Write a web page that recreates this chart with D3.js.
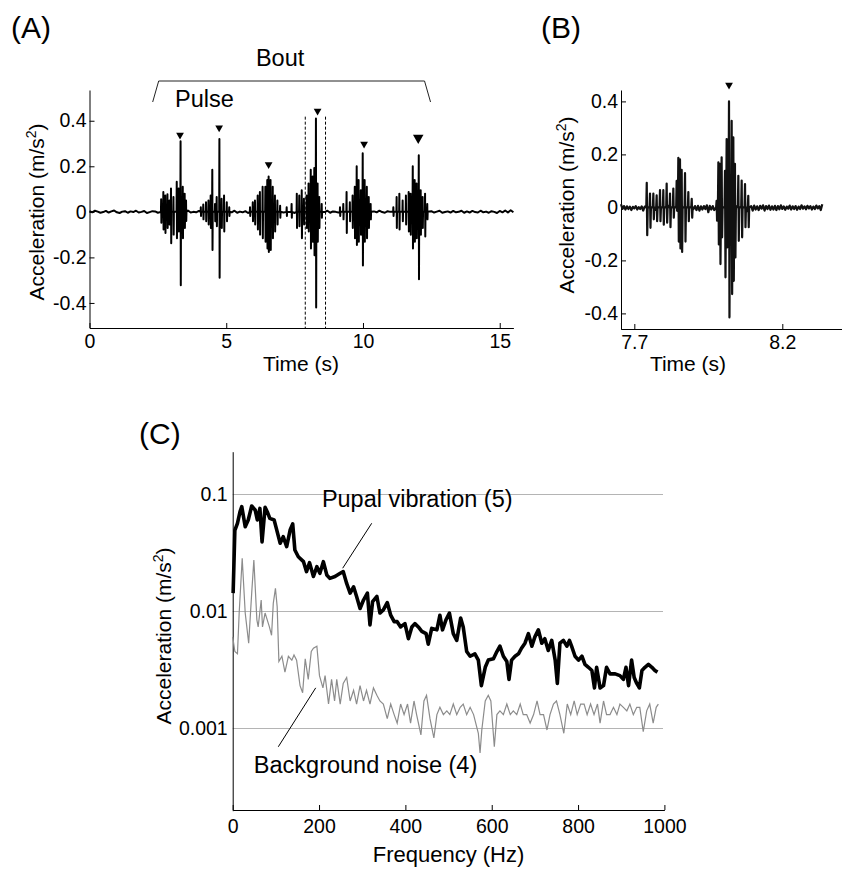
<!DOCTYPE html>
<html>
<head>
<meta charset="utf-8">
<script src="https://cdnjs.cloudflare.com/ajax/libs/d3/7.8.5/d3.min.js"></script>
<style>
  body { margin: 0; background: #fff; }
  svg text { font-family: "Liberation Sans", Arial, Helvetica, sans-serif; fill: #000; }
  .axis path, .axis line { stroke: #000; stroke-width: 1; }
  .axis text { font-size: 19.5px; font-family: "Liberation Sans", Arial, sans-serif; }
  .title { font-size: 21px; }
  .panel { font-size: 30px; }
  .note { font-size: 23.5px; }
</style>
</head>
<body>
<div id="fig"></div>
<script>
// Pupal vibration figure: (A) whole bout, (B) one pulse, (C) spectra
// Values

// ---- (A) bout ----
var boutTicks = [0, 5, 10, 15];
var boutYTicks = [-0.4, -0.2, 0, 0.2, 0.4];
// baseline noise, one sample every 0.1 s from 0 s, in m/s^2 x 1000
var boutBaseStep = 0.1;
var boutBaseline = [
  3,-2,5,1,-4,-1,4,-3,2,6,-2,-5,1,3,-4,2,-1,5,-3,0,
  4,-5,-1,3,2,-4,5,-2,-3,4,1,-5,3,-1,2,-4,6,-3,0,-2,
  4,-3,2,5,-4,-1,3,-5,2,0,-3,4,-2,5,-4,1,-2,3,-5,2,
  -1,4,-3,3,0,-5,4,-2,1,-4,5,-3,2,-1,3,-5,4,0,-3,2,
  5,-4,1,-2,4,-3,-1,5,-4,2,0,-3,4,-5,2,1,-4,3,-2,5,
  -3,1,4,-4,2,-2,5,-1,-4,3,0,-3,5,-2,1,-5,4,-1,2,-4,
  3,0,-5,4,-2,3,-3,1,5,-4,-1,2,-3,4,-2,0,5,-4,2,-3,
  4,-1,-3,5,-2,1,-4,3,0,-5,4,-2,6,-3,7,-2
];
// spikes inside the six pulses: [time s, peak, trough]
var boutSpikes = [
  [2.62,0.055,-0.048],[2.70,0.087,-0.078],[2.77,0.072,-0.093],[2.85,0.077,-0.071],[2.92,0.050,-0.056],
  [2.98,0.102,-0.138],[3.07,0.065,-0.100],[3.19,0.132,-0.116],[3.26,0.102,-0.086],[3.33,0.310,-0.322],
  [3.41,0.110,-0.116],[3.48,0.080,-0.071],[3.53,0.050,-0.040],
  [4.07,0.020,-0.018],[4.16,0.032,-0.033],[4.26,0.042,-0.041],[4.35,0.050,-0.056],[4.43,0.072,-0.071],
  [4.49,0.185,-0.168],[4.59,0.035,-0.041],[4.65,0.065,-0.063],[4.75,0.320,-0.289],[4.83,0.057,-0.071],
  [4.92,0.072,-0.086],[5.02,0.042,-0.041],[5.11,0.020,-0.018],
  [5.87,0.020,-0.018],[5.97,0.042,-0.041],[6.05,0.050,-0.056],[6.15,0.072,-0.078],[6.23,0.087,-0.100],
  [6.33,0.110,-0.116],[6.43,0.110,-0.131],[6.50,0.140,-0.161],[6.55,0.155,-0.176],[6.62,0.140,-0.168],
  [6.70,0.110,-0.116],[6.78,0.072,-0.086],[6.87,0.050,-0.056],[6.97,0.027,-0.026],
  [7.21,0.020,-0.018],[7.39,0.035,-0.026],[7.58,0.080,-0.071],[7.67,0.072,-0.063],[7.76,0.095,-0.116],
  [7.84,0.057,-0.056],[7.94,0.072,-0.071],[8.01,0.125,-0.086],[8.09,0.185,-0.161],[8.16,0.155,-0.131],
  [8.22,0.192,-0.191],[8.28,0.410,-0.420],[8.34,0.125,-0.131],[8.40,0.065,-0.071],[8.49,0.035,-0.026],
  [9.16,0.020,-0.018],[9.28,0.035,-0.033],[9.40,0.087,-0.093],[9.52,0.042,-0.041],[9.62,0.072,-0.071],
  [9.70,0.110,-0.116],[9.77,0.200,-0.146],[9.84,0.140,-0.131],[9.92,0.095,-0.101],[9.99,0.257,-0.236],
  [10.06,0.140,-0.131],[10.14,0.110,-0.116],[10.21,0.065,-0.071],[10.28,0.035,-0.033],
  [11.11,0.020,-0.018],[11.23,0.065,-0.071],[11.33,0.080,-0.078],[11.45,0.050,-0.041],[11.57,0.072,-0.056],
  [11.67,0.087,-0.086],[11.74,0.080,-0.101],[11.82,0.200,-0.161],[11.89,0.140,-0.131],[11.96,0.125,-0.116],
  [12.04,0.248,-0.296],[12.11,0.095,-0.101],[12.18,0.065,-0.071],[12.27,0.080,-0.108],[12.35,0.035,-0.033]
];
// arrowheads over each pulse [time s, acceleration]
var boutMarkers = [[3.31,0.337],[4.74,0.369],[6.55,0.208],[8.34,0.443],[10.04,0.298],[12.02,0.325]];
var boutSpan = [2.31, 12.47];     // "Bout" bracket
var zoomWindow = [7.89, 8.63];    // dashed lines, shown enlarged in (B)

// ---- (B) one pulse ----
var pulseTicks = [7.7, 8.2];
var pulseYTicks = [-0.4, -0.2, 0, 0.2, 0.4];
var pulseBaseStart = 7.655;
var pulseBaseStep = 0.005;
var pulseBaseline = [
  12,-6,5,-8,4,-6,3,-10,2,-4,5,-8,1,-6,4,-12,3,-4,6,-7,
  8,-15,5,-10,6,-8,4,-6,7,-5,3,-9,6,-4,5,-8,4,-10,5,-6,
  4,-5,6,-8,3,-5,7,-4,2,-6,5,-10,6,-12,4,-8,5,-6,8,-18,
  6,-8,5,-10,7,-12,6,-8,10,-6,4,-15,8,-10,6,-12,9,-5,4,-8,
  12,-15,6,-10,8,-14,10,-6,5,-12,7,-8,4,-10,6,-5,8,-12,5,-6,
  7,-9,4,-8,6,-10,5,-7,8,-6,4,-9,3,-5,7,-8,4,-6,5,-9,
  3,-6,8,-5,4,-7,6,-4,5,-8,3,-6,7,-4,5,-10,12
];
var pulseSpikes = [
  [7.742,0.093,-0.105],[7.753,0.052,-0.077],[7.7643,0.052,-0.045],[7.7755,0.045,-0.052],
  [7.7868,0.065,-0.052],[7.798,0.065,-0.065],[7.8093,0.090,-0.058],[7.8206,0.052,-0.075],
  [7.8318,0.071,-0.039],[7.843,0.100,-0.013],[7.8487,0.187,-0.129],[7.8543,0.181,-0.155],
  [7.860,0.142,-0.168],[7.8713,0.129,-0.129],[7.8825,0.058,-0.052],[7.894,0.032,-0.039],
  [7.978,0.025,-0.050],[7.984,0.170,-0.140],[7.9895,0.164,-0.214],[7.995,0.189,-0.113],
  [8.0064,0.138,-0.264],[8.012,0.258,-0.151],[8.0199,0.400,-0.415],[8.0289,0.327,-0.327],
  [8.0345,0.264,-0.277],[8.040,0.164,-0.189],[8.0514,0.119,-0.126],[8.0627,0.101,-0.113],
  [8.074,0.088,-0.075],[8.085,0.044,-0.075]
];
var pulseMarker = [8.02, 0.462];

// ---- (C) spectra [Hz, m/s^2] ----
var freqTicks = [0, 200, 400, 600, 800, 1000];
var accTicks = [0.001, 0.01, 0.1];
var pupalSpectrum = [
  [1,0.0142],[5,0.049],[11,0.056],[17,0.0706],[21,0.078],[29,0.0526],[36,0.060],[44,0.079],
  [52,0.073],[57,0.060],[63,0.0753],[68,0.039],[75,0.077],[80,0.0706],[86,0.0619],[96,0.060],
  [100,0.0526],[110,0.0379],[117,0.0432],[125,0.0355],[133,0.0492],[139,0.0555],[144,0.0332],
  [152,0.0291],[164,0.0264],[171,0.0217],[178,0.0259],[187,0.0197],[195,0.0239],[202,0.0210],
  [210,0.0264],[218,0.0203],[225,0.0190],[237,0.0197],[249,0.0210],[256,0.0217],[264,0.0172],
  [272,0.0142],[280,0.0161],[287,0.0133],[295,0.0105],[303,0.0124],[312,0.0142],[318,0.0076],
  [324,0.0120],[334,0.0133],[341,0.0096],[349,0.0102],[358,0.0118],[366,0.0092],[374,0.0081],
  [381,0.0081],[389,0.0073],[399,0.0078],[407,0.0058],[415,0.0073],[422,0.0078],[430,0.0073],
  [438,0.0067],[448,0.0064],[453,0.0052],[461,0.0071],[473,0.0069],[480,0.0092],[486,0.0069],
  [494,0.0084],[502,0.0096],[511,0.0064],[519,0.0056],[528,0.0087],[534,0.0073],[542,0.0045],
  [550,0.0041],[561,0.0043],[569,0.0038],[576,0.0023],[585,0.0033],[592,0.0038],[604,0.0039],
  [612,0.0045],[619,0.0050],[627,0.0041],[635,0.0037],[640,0.0026],[646,0.0038],[654,0.0041],
  [662,0.0043],[669,0.0048],[677,0.0053],[685,0.0064],[693,0.0050],[700,0.0060],[708,0.0069],
  [716,0.0053],[723,0.0058],[731,0.0046],[739,0.0056],[747,0.0038],[752,0.0024],[758,0.0053],
  [766,0.0056],[774,0.0050],[780,0.0056],[785,0.0050],[793,0.0041],[801,0.0038],[809,0.0041],
  [816,0.0035],[824,0.0033],[832,0.0031],[838,0.0022],[843,0.0033],[851,0.0022],[859,0.0023],
  [866,0.0033],[874,0.0029],[886,0.0029],[897,0.0028],[905,0.0026],[911,0.0033],[917,0.0023],
  [924,0.0038],[930,0.0027],[936,0.0024],[942,0.0022],[948,0.0031],[955,0.0033],[963,0.0035],
  [971,0.0033],[978,0.0031],[984,0.0030]
];
var noiseSpectrum = [
  [0,0.0060],[5,0.0045],[11,0.0043],[15,0.0096],[22,0.0282],[29,0.0096],[37,0.0053],[44,0.0142],
  [49,0.0273],[56,0.0084],[59,0.0073],[66,0.0124],[69,0.0073],[75,0.0096],[80,0.0084],[85,0.0073],
  [90,0.0062],[94,0.0116],[99,0.0156],[103,0.0109],[107,0.0037],[114,0.0041],[121,0.0030],
  [129,0.0041],[137,0.0038],[142,0.0042],[148,0.0038],[156,0.0023],[162,0.0020],[168,0.0039],
  [175,0.0026],[182,0.0045],[187,0.0048],[195,0.0050],[201,0.0028],[209,0.0022],[214,0.0028],
  [222,0.0016],[229,0.0026],[236,0.0017],[241,0.0026],[249,0.0016],[256,0.0024],[264,0.0027],
  [272,0.0017],[280,0.0021],[287,0.0016],[295,0.0023],[303,0.0017],[310,0.0021],[318,0.0016],
  [326,0.0022],[334,0.0019],[341,0.0017],[349,0.0016],[358,0.0012],[366,0.0016],[374,0.0013],
  [381,0.0011],[389,0.0016],[397,0.0013],[405,0.0016],[412,0.0011],[420,0.0017],[426,0.0013],
  [436,0.00087],[443,0.0017],[449,0.0019],[457,0.0012],[466,0.00082],[473,0.0013],[480,0.0015],
  [488,0.0013],[496,0.0014],[503,0.0013],[511,0.0016],[519,0.0013],[527,0.0015],[534,0.0016],
  [542,0.0013],[550,0.0015],[558,0.0013],[569,0.00090],[573,0.00061],[577,0.00096],[585,0.0017],
  [592,0.0019],[598,0.0017],[606,0.00069],[612,0.0013],[619,0.0014],[627,0.0013],[635,0.0016],
  [643,0.0013],[650,0.0014],[658,0.0013],[666,0.0016],[673,0.0013],[681,0.0013],[689,0.0011],
  [697,0.0013],[705,0.0017],[712,0.0013],[720,0.0013],[728,0.00096],[735,0.0013],[743,0.0016],
  [750,0.0017],[758,0.0013],[767,0.0009],[775,0.0016],[783,0.0013],[791,0.0017],[798,0.0013],
  [806,0.0016],[814,0.0016],[821,0.0013],[829,0.0016],[837,0.0013],[845,0.0016],[851,0.0011],
  [859,0.0017],[866,0.0013],[874,0.0013],[882,0.0015],[890,0.0013],[897,0.0016],[905,0.0015],
  [913,0.0014],[920,0.0016],[928,0.0013],[936,0.0015],[943,0.0015],[951,0.00093],[959,0.0014],
  [966,0.0016],[974,0.0011],[981,0.0015],[986,0.0016]
];
// leader lines from the labels to the curves
var pupalLeader = [[322,0.0562],[254.8,0.0232]];
var noiseLeader = [[105.6,0.00069],[192.3,0.0022]];


// Aux: merge baseline noise and spikes into one time-ordered trace.
// Each spike goes 0 -> peak -> trough -> 0 within a few ms so it reads as
// a thin vertical stroke, like on the original oscillogram.
function buildTrace(t0, step, base, spikes, h, gap) {
  var pts = [];
  base.forEach(function (v, i) {
    var t = t0 + i * step;
    // skip baseline samples that fall inside a pulse
    var near = spikes.some(function (s) { return Math.abs(s[0] - t) < gap; });
    if (!near) pts.push([t, v / 1000]);
  });
  spikes.forEach(function (s) {
    pts.push([s[0] - h, 0]);
    pts.push([s[0], s[1]]);
    pts.push([s[0] + h, s[2]]);
    pts.push([s[0] + 2 * h, 0]);
  });
  pts.sort(function (a, b) { return a[0] - b[0]; });
  return pts;
}

function fmt1(d) { return d === 0 ? "0" : d.toFixed(1); }

var svg = d3.select("#fig").append("svg")
    .attr("width", 845)
    .attr("height", 870);

function yTitle(x, y) {
  var t = svg.append("text").attr("class", "title")
      .attr("text-anchor", "middle")
      .attr("transform", "translate(" + x + "," + y + ") rotate(-90)");
  t.append("tspan").text("Acceleration (m/s");
  t.append("tspan").attr("dy", -8).style("font-size", "14px").text("2");
  t.append("tspan").attr("dy", 8).text(")");
}

var tri = d3.symbol().type(d3.symbolTriangle);

// ================= (A) =================
var xA = d3.scaleLinear().domain([0, 15.5]).range([89.5, 513.4]);
var yA = d3.scaleLinear().domain([-0.51, 0.535]).range([328, 90]);

svg.append("g").attr("class", "axis")
    .attr("transform", "translate(0,328)")
    .call(d3.axisBottom(xA).tickValues(boutTicks).tickSize(-5).tickSizeOuter(0).tickPadding(6));
svg.append("g").attr("class", "axis")
    .attr("transform", "translate(" + xA(0) + ",0)")
    .call(d3.axisLeft(yA).tickValues(boutYTicks).tickFormat(fmt1).tickSize(-5).tickSizeOuter(0).tickPadding(3));

var traceA = buildTrace(0, boutBaseStep, boutBaseline, boutSpikes, 0.008, 0.06);
svg.append("path")
    .datum(traceA)
    .attr("fill", "none")
    .attr("stroke", "#000")
    .attr("stroke-width", 2)
    .attr("stroke-linejoin", "round")
    .attr("d", d3.line().x(function (d) { return xA(d[0]); }).y(function (d) { return yA(d[1]); }));

// dashed window
svg.selectAll(".win").data(zoomWindow).enter().append("line")
    .attr("x1", function (d) { return xA(d); })
    .attr("x2", function (d) { return xA(d); })
    .attr("y1", yA(0.418))
    .attr("y2", 328)
    .attr("stroke", "#000")
    .attr("stroke-width", 1)
    .attr("stroke-dasharray", "3,2");

svg.selectAll(".markA").data(boutMarkers).enter().append("path")
    .attr("d", function (d, i) { return tri.size(i === boutMarkers.length - 1 ? 48 : 26)(); })
    .attr("transform", function (d) { return "translate(" + xA(d[0]) + "," + yA(d[1]) + ") rotate(180)"; })
    .attr("fill", "#000");

// bout bracket
var bx0 = xA(boutSpan[0]), bx1 = xA(boutSpan[1]);
svg.append("path")
    .attr("d", "M" + bx0 + ",102L" + (bx0 + 6) + ",81H" + (bx1 - 6) + "L" + bx1 + ",102")
    .attr("fill", "none").attr("stroke", "#222").attr("stroke-width", 1);
svg.append("text").attr("class", "note").attr("x", xA(6.97)).attr("y", 66)
    .attr("text-anchor", "middle").text("Bout");
svg.append("text").attr("class", "note").attr("x", 175).attr("y", 107).text("Pulse");

svg.append("text").attr("class", "title").attr("x", 301).attr("y", 371)
    .attr("text-anchor", "middle").text("Time (s)");
yTitle(44, 212);
svg.append("text").attr("class", "panel").attr("x", 11).attr("y", 38).text("(A)");

// ================= (B) =================
var xB = d3.scaleLinear().domain([7.655, 8.40]).range([621, 841.5]);
var yB = d3.scaleLinear().domain([-0.46, 0.443]).range([329.3, 90]);

svg.append("g").attr("class", "axis")
    .attr("transform", "translate(0,329)")
    .call(d3.axisBottom(xB).tickValues(pulseTicks).tickFormat(d3.format(".1f")).tickSize(-5).tickSizeOuter(0).tickPadding(6));
svg.append("g").attr("class", "axis")
    .attr("transform", "translate(621,0)")
    .call(d3.axisLeft(yB).tickValues(pulseYTicks).tickFormat(fmt1).tickSize(-5).tickSizeOuter(0).tickPadding(3));

var traceB = buildTrace(pulseBaseStart, pulseBaseStep, pulseBaseline, pulseSpikes, 0.0016, 0.005);
svg.append("path")
    .datum(traceB)
    .attr("fill", "none")
    .attr("stroke", "#111")
    .attr("stroke-width", 2.2)
    .attr("stroke-linejoin", "round")
    .attr("d", d3.line().x(function (d) { return xB(d[0]); }).y(function (d) { return yB(d[1]); }));

svg.append("path")
    .attr("d", tri.size(26)())
    .attr("transform", "translate(" + xB(pulseMarker[0]) + "," + yB(pulseMarker[1]) + ") rotate(180)")
    .attr("fill", "#000");

svg.append("text").attr("class", "title").attr("x", 688).attr("y", 371)
    .attr("text-anchor", "middle").text("Time (s)");
yTitle(574, 205);
svg.append("text").attr("class", "panel").attr("x", 541).attr("y", 38).text("(B)");

// ================= (C) =================
var xC = d3.scaleLinear().domain([0, 1000]).range([232.7, 664.4]);
var yC = d3.scaleLog().domain([0.000196, 0.23]).range([810.7, 451.7]);

// gridlines
svg.selectAll(".grid").data(accTicks).enter().append("line")
    .attr("x1", xC(0)).attr("x2", 663)
    .attr("y1", function (d) { return Math.round(yC(d)) + 0.5; })
    .attr("y2", function (d) { return Math.round(yC(d)) + 0.5; })
    .attr("stroke", "#b4b4b4").attr("stroke-width", 1);

svg.append("g").attr("class", "axis")
    .attr("transform", "translate(0,810)")
    .call(d3.axisBottom(xC).tickValues(freqTicks).tickFormat(d3.format("d")).tickSize(-5).tickSizeOuter(0).tickPadding(9));
svg.append("g").attr("class", "axis")
    .attr("transform", "translate(" + xC(0) + ",0)")
    .call(d3.axisLeft(yC).tickValues(accTicks).tickFormat(function (d) { return String(d); }).tickSize(0).tickPadding(5));

var lineC = d3.line().x(function (d) { return xC(d[0]); }).y(function (d) { return yC(d[1]); });
svg.append("path").datum(noiseSpectrum)
    .attr("fill", "none").attr("stroke", "#8c8c8c").attr("stroke-width", 1.2)
    .attr("d", lineC);
svg.append("path").datum(pupalSpectrum)
    .attr("fill", "none").attr("stroke", "#000").attr("stroke-width", 3.6)
    .attr("stroke-linejoin", "round")
    .attr("d", lineC);

[pupalLeader, noiseLeader].forEach(function (ld) {
  svg.append("path").datum(ld)
      .attr("fill", "none").attr("stroke", "#000").attr("stroke-width", 1)
      .attr("d", lineC);
});
svg.append("text").attr("class", "note").attr("x", xC(206.6)).attr("y", yC(0.0774)).text("Pupal vibration (5)");
svg.append("text").attr("class", "note").attr("x", xC(49)).attr("y", yC(0.000412)).text("Background noise (4)");

svg.append("text").attr("class", "title").attr("x", 448.5).attr("y", 862)
    .style("font-size", "22px")
    .attr("text-anchor", "middle").text("Frequency (Hz)");
yTitle(171, 636);
svg.append("text").attr("class", "panel").attr("x", 139).attr("y", 444).text("(C)");
</script>
</body>
</html>
